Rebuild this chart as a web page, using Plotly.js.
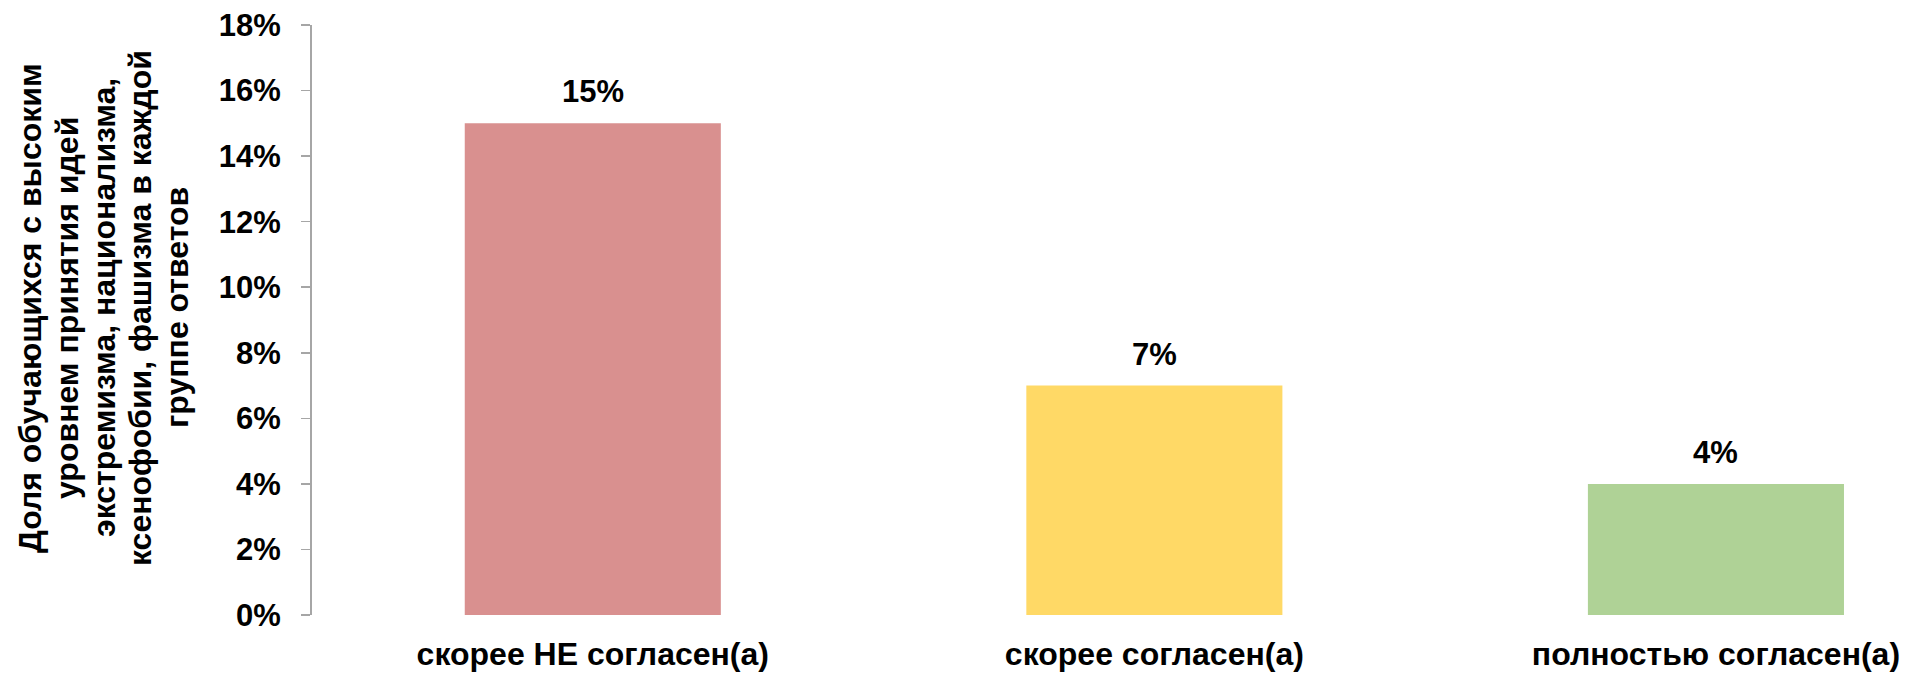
<!DOCTYPE html>
<html>
<head>
<meta charset="utf-8">
<script src="https://cdn.plot.ly/plotly-3.0.1.min.js"></script>
<style>html,body{margin:0;padding:0;background:#fff;}#chart{width:1908px;height:673px;}</style>
</head>
<body>
<div id="chart"></div>
<script>
const categories = ["скорее НЕ согласен(а)", "скорее согласен(а)", "полностью согласен(а)"];
const values = [0.15, 0.07, 0.04];
const barColors = ["#D9908F", "#FFD966", "#AFD296"];
const yTitleLines = [
  "Доля обучающихся с высоким",
  "уровнем принятия идей",
  "экстремизма, национализма,",
  "ксенофобии, фашизма в каждой",
  "группе ответов"
];
const yTickVals = [0, 0.02, 0.04, 0.06, 0.08, 0.10, 0.12, 0.14, 0.16, 0.18];

const FONT = "Liberation Sans, Arial, sans-serif";
const W = 1908, H = 673;
const margin = {l: 312, r: 0, t: 25, b: 58};

const trace = {
  type: "bar",
  x: categories,
  y: values,
  marker: {color: barColors, line: {width: 0}},
  hoverinfo: "skip"
};

const annotations = [];
categories.forEach((c, i) => {
  annotations.push({
    x: c, y: values[i], xref: "x", yref: "y",
    text: Math.round(values[i] * 100) + "%",
    showarrow: false, yanchor: "bottom", xanchor: "center", yshift: 12,
    font: {family: FONT, size: 31, color: "#000", weight: 700}
  });
});
const lineX = [30, 67, 104, 140, 177];
yTitleLines.forEach((t, i) => {
  annotations.push({
    xref: "paper", yref: "paper", x: 0, y: (615 - 308) / (H - margin.t - margin.b),
    xshift: lineX[i] - margin.l,
    xanchor: "center", yanchor: "middle",
    text: t, textangle: -90, showarrow: false,
    font: {family: FONT, size: 32, color: "#000", weight: 700}
  });
});

const layout = {
  width: W, height: H,
  margin: margin,
  paper_bgcolor: "#fff", plot_bgcolor: "#fff",
  showlegend: false,
  bargap: 0.544,
  xaxis: {
    type: "category",
    range: [-0.5, 2.342],
    showline: false, showgrid: false, zeroline: false,
    ticks: "", ticklabelstandoff: 17,
    tickfont: {family: FONT, size: 32, color: "#000", weight: 700}
  },
  yaxis: {
    range: [0, 0.18],
    tickvals: yTickVals,
    tickformat: ".0%",
    showline: true, linecolor: "#A6A6A6", linewidth: 2,
    ticks: "outside", ticklen: 9, tickcolor: "#A6A6A6", tickwidth: 1.5,
    showgrid: false, zeroline: false,
    ticklabelstandoff: 14,
    tickfont: {family: FONT, size: 31, color: "#000", weight: 700}
  },
  annotations: annotations
};

Plotly.newPlot("chart", [trace], layout, {displayModeBar: false, staticPlot: true});
</script>
</body>
</html>
